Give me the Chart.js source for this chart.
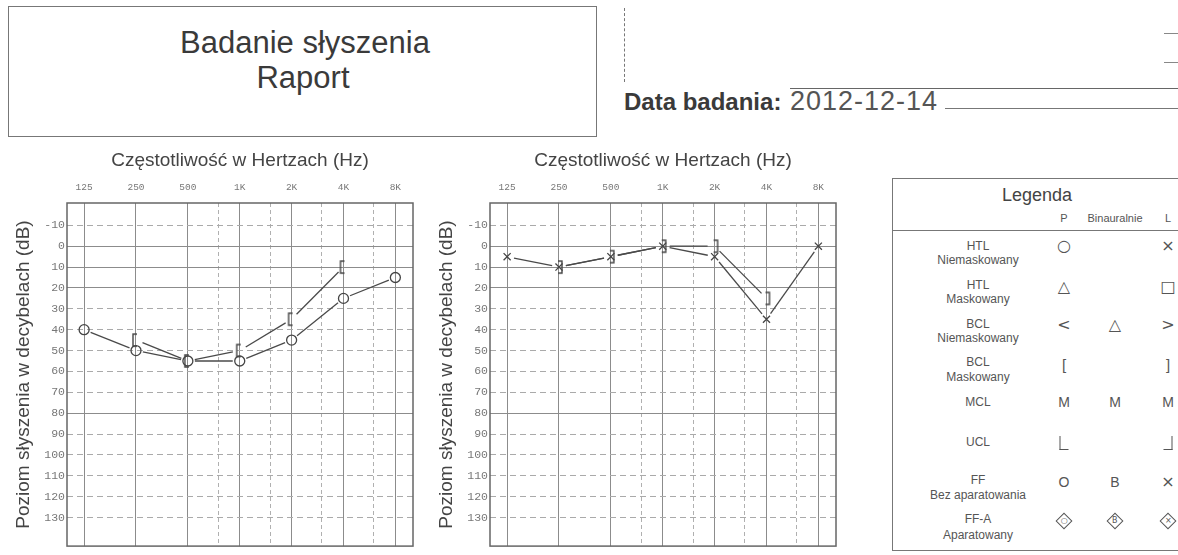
<!DOCTYPE html>
<html><head><meta charset="utf-8">
<script src="https://cdn.jsdelivr.net/npm/chart.js@4.4.1/dist/chart.umd.min.js"></script>
<style>
html,body{margin:0;padding:0;background:#fff;width:1178px;height:555px;overflow:hidden;font-family:"Liberation Sans",Arial,sans-serif;color:#3c3c3c}
.abs{position:absolute}
.c{position:absolute;transform:translate(-50%,-50%);white-space:nowrap;line-height:1}
.lbl{font-size:12px;color:#555}
.sym{font-family:"DejaVu Sans",sans-serif;color:#555}
canvas{position:absolute}
</style></head><body>

<!-- header -->
<div class="abs" style="left:8px;top:6px;width:587px;height:129px;border:1.5px solid #777"></div>
<div class="c" style="left:305px;top:42px;font-size:31px;color:#3a3a3a">Badanie słyszenia</div>
<div class="c" style="left:303px;top:77px;font-size:31px;color:#3a3a3a">Raport</div>
<div class="abs" style="left:624px;top:8px;height:74px;border-left:1px dashed #777"></div>
<div class="abs" style="left:1164px;top:33px;width:14px;border-top:1px solid #888"></div>
<div class="abs" style="left:1164px;top:62px;width:14px;border-top:1px solid #888"></div>
<div class="abs" style="left:790px;top:88px;width:388px;border-top:1.2px solid #666"></div>
<div class="abs" style="left:624px;top:88px;font-size:24px;font-weight:bold;color:#3a3a3a;white-space:nowrap">Data badania:</div>
<div class="abs" style="left:790px;top:86px;font-size:27px;letter-spacing:1px;color:#555;white-space:nowrap">2012-12-14</div>
<div class="abs" style="left:945px;top:108px;width:233px;border-top:1px solid #777"></div>

<canvas id="chartP" width="420" height="415" style="left:0;top:140px"></canvas>
<canvas id="chartL" width="420" height="415" style="left:423px;top:140px"></canvas>

<!-- legend -->
<div class="abs" style="left:892px;top:178px;width:300px;height:371px;border:1.5px solid #777"></div>
<div class="abs" style="left:892px;top:230px;width:300px;border-top:1.3px solid #777"></div>
<div id="legend"></div>

<script>
// ---- data ----
const freqHz = [125, 250, 500, 1000, 2000, 4000, 8000];
const freqLabels = ['125', '250', '500', '1K', '2K', '4K', '8K'];
const halfOctaveHz = [750, 1500, 3000, 6000];
const dbTicks = [-10, 0, 10, 20, 30, 40, 50, 60, 70, 80, 90, 100, 110, 120, 130];
const solidDbLines = [0, 10, 20, 80];
// Right ear (P)
const rightAirUnmasked = [40, 50, 55, 55, 45, 25, 15];
const rightBoneMasked = [null, 45, 55, 50, 35, 10, null];
// Left ear (L)
const leftAirUnmasked = [5, 10, 5, 0, 5, 35, 0];
const leftBoneMasked = [null, 10, 5, 0, 0, 25, null];

const toOct = f => Math.log2(f / 125);
const pts = vals => vals.map((v, i) => v === null ? null : ({x: toOct(freqHz[i]), y: v})).filter(p => p);

function bracket(side) {
  const c = document.createElement('canvas');
  c.width = 14; c.height = 16;
  const g = c.getContext('2d');
  g.strokeStyle = '#444'; g.lineWidth = 1.4;
  g.beginPath();
  if (side === 'left') { g.moveTo(8, 2); g.lineTo(4, 2); g.lineTo(4, 14); g.lineTo(8, 14); }
  else { g.moveTo(6, 2); g.lineTo(10, 2); g.lineTo(10, 14); g.lineTo(6, 14); }
  g.stroke();
  return c;
}

const gapLines = {
  id: 'gapLines',
  beforeDatasetsDraw(chart) {
    const ctx = chart.ctx;
    chart.data.datasets.forEach((ds, di) => {
      const els = chart.getDatasetMeta(di).data;
      ctx.save();
      ctx.strokeStyle = '#4a4a4a'; ctx.lineWidth = 1.3;
      for (let i = 0; i < els.length - 1; i++) {
        const a = els[i], b = els[i + 1];
        const dx = b.x - a.x, dy = b.y - a.y, len = Math.hypot(dx, dy);
        const g = 7;
        if (len <= 2 * g) continue;
        const ux = dx / len, uy = dy / len;
        ctx.beginPath();
        ctx.moveTo(a.x + ux * g, a.y + uy * g);
        ctx.lineTo(b.x - ux * g, b.y - uy * g);
        ctx.stroke();
      }
      ctx.restore();
    });
  }
};
const frame = {
  id: 'frame',
  afterDraw(chart) {
    const {left, top, right, bottom} = chart.chartArea;
    const ctx = chart.ctx;
    ctx.save(); ctx.strokeStyle = '#666'; ctx.lineWidth = 1.5;
    ctx.strokeRect(left, top, right - left, bottom - top);
    ctx.restore();
  }
};

const gridHz = freqHz.concat(halfOctaveHz).sort((a, b) => a - b);

function makeChart(id, datasets, padRight) {
  return new Chart(document.getElementById(id), {
    type: 'scatter',
    data: {datasets},
    options: {
      responsive: false, animation: false, events: [],
      layout: {padding: {left: 0, right: padRight, top: 0, bottom: 3}},
      plugins: {legend: {display: false}, tooltip: {enabled: false}},
      scales: {
        x: {
          type: 'linear', position: 'top', min: -0.33, max: 6.34,
          afterBuildTicks: s => { s.ticks = gridHz.map(f => ({value: toOct(f)})); },
          afterFit: s => { s.height = 63; },
          ticks: {
            padding: 10, autoSkip: false, maxRotation: 0, color: '#777',
            font: {family: '"Liberation Mono", monospace', size: 9.5},
            callback: v => Number.isInteger(v) ? freqLabels[v] : ''
          },
          grid: {drawTicks: false, lineWidth: 1, color: c => Number.isInteger(c.tick.value) ? '#8c8c8c' : '#b0b0b0'},
          border: {display: false, dash: c => Number.isInteger(c.tick.value) ? [] : [4, 3]},
          title: {display: true, text: 'Częstotliwość w Hertzach (Hz)', color: '#444',
                  font: {family: '"Liberation Sans", Arial', size: 19}, padding: {top: 9, bottom: 0}}
        },
        y: {
          type: 'linear', reverse: true, min: -20.7, max: 143.7,
          afterBuildTicks: s => { s.ticks = dbTicks.map(v => ({value: v})); },
          afterFit: s => { s.width = 67; },
          ticks: {padding: 2, color: '#777', font: {family: '"Liberation Mono", monospace', size: 11.5}},
          grid: {drawTicks: false, lineWidth: 1, color: c => solidDbLines.includes(c.tick.value) ? '#8c8c8c' : '#aaaaaa'},
          border: {display: false, dash: c => solidDbLines.includes(c.tick.value) ? [] : [6, 4]},
          title: {display: true, text: 'Poziom słyszenia w decybelach (dB)', color: '#444',
                  font: {family: '"Liberation Sans", Arial', size: 19}, padding: {top: 12, bottom: 0}}
        }
      }
    },
    plugins: [gapLines, frame]
  });
}

makeChart('chartP', [
  {data: pts(rightAirUnmasked), showLine: false, pointStyle: 'circle', radius: 5,
   borderColor: '#444', borderWidth: 1.3, backgroundColor: 'rgba(255,255,255,0)'},
  {data: pts(rightBoneMasked), showLine: false, pointStyle: bracket('left'), radius: 6}
], 5);

makeChart('chartL', [
  {data: pts(leftAirUnmasked), showLine: false, pointStyle: 'crossRot', radius: 5,
   borderColor: '#444', borderWidth: 1.3},
  {data: pts(leftBoneMasked), showLine: false, pointStyle: bracket('right'), radius: 6}
], 6);

// ---- legend (HTML) ----
const legendRows = [
  ['HTL', 'Niemaskowany', 246, 260],
  ['HTL', 'Maskowany', 285, 299],
  ['BCL', 'Niemaskowany', 324, 338],
  ['BCL', 'Maskowany', 362, 377],
  ['MCL', null, 402, null],
  ['UCL', null, 442, null],
  ['FF', 'Bez aparatowania', 480, 495],
  ['FF-A', 'Aparatowany', 519, 535]
];
const legendSymbols = [
  [246, '○', '', '×'],
  [287, '△', '', '□'],
  [325, '<', '△', '>'],
  [364, '[', '', ']'],
  [402, 'M', 'M', 'M'],
  [443, 'UCLP', '', 'UCLL'],
  [482, 'O', 'B', '×'],
  [521, 'DP', 'DB', 'DL']
];
const colX = [1064, 1115, 1168];
const L = document.getElementById('legend');
function put(html, x, y, cls, style) {
  const d = document.createElement('div');
  d.className = 'c ' + (cls || '');
  d.style.left = x + 'px'; d.style.top = y + 'px';
  if (style) d.style.cssText += style;
  d.innerHTML = html;
  L.appendChild(d);
}
put('Legenda', 1037, 195, '', 'font-size:18px;color:#444');
put('P', colX[0], 218, '', 'font-size:11px;color:#555');
put('Binauralnie', colX[1], 218, '', 'font-size:11px;color:#555');
put('L', colX[2], 218, '', 'font-size:11px;color:#555');
legendRows.forEach(([a, b, ya, yb]) => {
  put(a, 978, ya, 'lbl');
  if (b) put(b, 978, yb, 'lbl');
});
legendSymbols.forEach(([y, ...syms]) => {
  syms.forEach((s, i) => {
    if (!s) return;
    const x = colX[i];
    if (s === 'UCLP') put('<div style="width:8px;height:13px;border-left:1.4px solid #555;border-bottom:1.4px solid #555"></div>', x, y);
    else if (s === 'UCLL') put('<div style="width:8px;height:13px;border-right:1.4px solid #555;border-bottom:1.4px solid #555"></div>', x, y);
    else if (s[0] === 'D' && s.length === 2) {
      const inner = {P: '○', B: 'B', L: '×'}[s[1]];
      put('<div style="width:10px;height:10px;border:1.4px solid #555;transform:rotate(45deg);display:flex;align-items:center;justify-content:center"><span style="transform:rotate(-45deg);font-size:8px;font-family:DejaVu Sans;color:#555">' + inner + '</span></div>', x, y);
    }
    else {
      const size = (s === 'M' || s === 'B' || s === 'O') ? 14 : (s === '[' || s === ']') ? 15 : 16;
      const fam = (s === 'M' || s === 'B' || s === 'O' || s === '[' || s === ']') ? 'font-family:"Liberation Sans";font-weight:300' : '';
      put(s, x, y, 'sym', 'font-size:' + size + 'px;' + fam);
    }
  });
});
</script>
</body></html>
